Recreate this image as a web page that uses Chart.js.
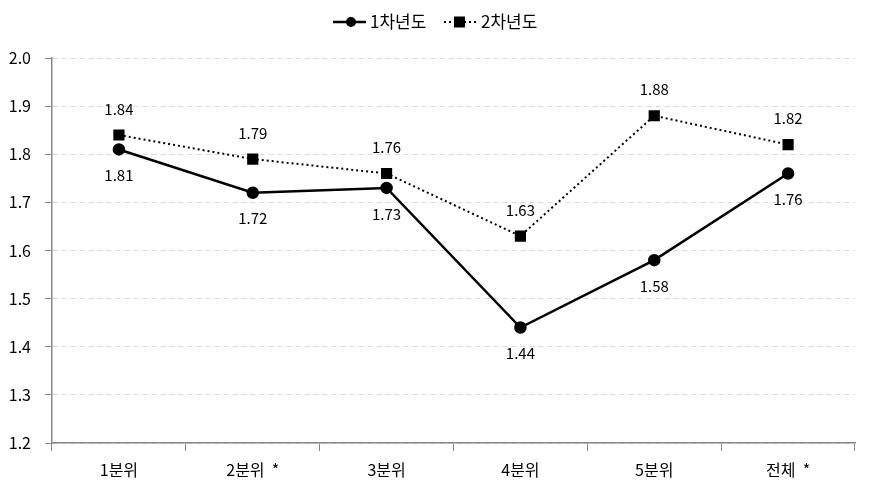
<!DOCTYPE html>
<html>
<head>
<meta charset="utf-8">
<script src="https://cdn.jsdelivr.net/npm/chart.js@4"></script>
<style>
  html, body { margin: 0; padding: 0; background: #fff; }
  #wrap { width: 871px; height: 493px; }
</style>
</head>
<body>
<div id="wrap"><canvas id="chart" width="871" height="493"></canvas></div>
<script>
// chart data
const categories = ["1분위", "2분위  *", "3분위", "4분위", "5분위", "전체  *"];
const year1Label = "1차년도";
const year2Label = "2차년도";
const year1 = [1.81, 1.72, 1.73, 1.44, 1.58, 1.76];
const year2 = [1.84, 1.79, 1.76, 1.63, 1.88, 1.82];

const FONT = "'Noto Sans CJK KR', 'Noto Sans', sans-serif";

// value labels: year1 below the point, year2 above
const valueLabels = {
  id: "valueLabels",
  afterDatasetsDraw(chart){
    const ctx = chart.ctx;
    ctx.save();
    ctx.font = "15px " + FONT;
    ctx.fillStyle = "#000";
    ctx.textAlign = "center";
    ctx.textBaseline = "middle";
    chart.data.datasets.forEach((ds, i) => {
      const meta = chart.getDatasetMeta(i);
      meta.data.forEach((pt, j) => {
        const dy = i === 0 ? 26 : -26;
        ctx.fillText(ds.data[j].toFixed(2), pt.x, pt.y + dy);
      });
    });
    ctx.restore();
  }
};

// legend drawn by hand so the markers sit on the line samples
const lineLegend = {
  id: "lineLegend",
  afterDraw(chart){
    const ctx = chart.ctx;
    const y = 22;
    ctx.save();
    ctx.strokeStyle = "#000";
    ctx.fillStyle = "#000";
    // series 1
    ctx.lineWidth = 2.5;
    ctx.setLineDash([]);
    ctx.beginPath(); ctx.moveTo(333, y); ctx.lineTo(366, y); ctx.stroke();
    ctx.beginPath(); ctx.arc(351, y, 5, 0, Math.PI * 2); ctx.fill();
    // series 2
    ctx.lineWidth = 2;
    ctx.setLineDash([2, 3]);
    ctx.beginPath(); ctx.moveTo(444, y); ctx.lineTo(476, y); ctx.stroke();
    ctx.setLineDash([]);
    ctx.fillRect(454, y - 5.5, 11, 11);
    ctx.font = "17px " + FONT;
    ctx.textBaseline = "middle";
    ctx.textAlign = "left";
    ctx.fillText(year1Label, 370, y);
    ctx.fillText(year2Label, 481, y);
    ctx.restore();
  }
};

new Chart(document.getElementById("chart"), {
  type: "line",
  data: {
    labels: categories,
    datasets: [
      {
        label: year1Label,
        data: year1,
        borderColor: "#000",
        backgroundColor: "#000",
        borderWidth: 2.5,
        pointStyle: "circle",
        pointRadius: 5,
        pointHoverRadius: 5,
        tension: 0
      },
      {
        label: year2Label,
        data: year2,
        borderColor: "#000",
        backgroundColor: "#000",
        borderWidth: 2,
        borderDash: [2, 3],
        pointStyle: "rect",
        pointRadius: 6.5,
        pointHoverRadius: 6.5,
        tension: 0
      }
    ]
  },
  options: {
    responsive: false,
    animation: false,
    layout: { padding: { top: 58, right: 16, left: 0, bottom: 0 } },
    plugins: {
      legend: { display: false },
      tooltip: { enabled: false }
    },
    scales: {
      x: {
        offset: true,
        grid: { offset: true, drawOnChartArea: false, drawTicks: true, tickLength: 8, color: "#888" },
        border: { color: "#888", width: 1.5 },
        ticks: { color: "#000", padding: 9, font: { family: FONT, size: 16 } },
        afterFit(scale){ scale.height = 50; }
      },
      y: {
        min: 1.2,
        max: 2.0,
        ticks: {
          stepSize: 0.1,
          color: "#000",
          padding: 14,
          font: { family: FONT, size: 16 },
          callback: v => v.toFixed(1)
        },
        grid: { color: "#d9d9d9", tickColor: "#888", tickLength: 7, tickBorderDash: [] },
        border: { color: "#888", width: 1.5, dash: [5, 4] },
        afterFit(scale){ scale.width = 52; }
      }
    }
  },
  plugins: [valueLabels, lineLegend]
});
</script>
</body>
</html>
